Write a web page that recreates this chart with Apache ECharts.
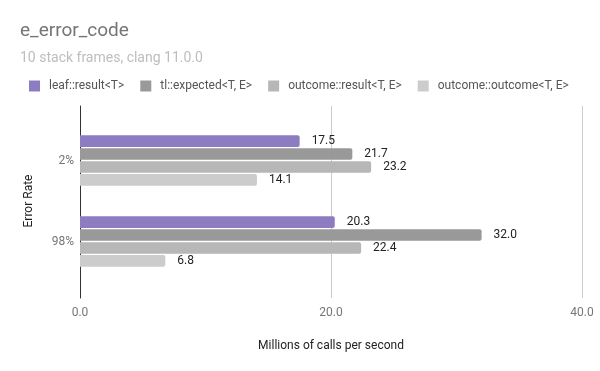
<!DOCTYPE html>
<html><head><meta charset="utf-8">
<script src="https://cdn.jsdelivr.net/npm/echarts@6/dist/echarts.min.js"></script>
<style>html,body{margin:0;padding:0;background:#fff}#c{width:600px;height:371px}</style>
</head><body><div id="c"></div>
<script>
const categories = ['2%', '98%'];
const seriesNames = ['leaf::result<T>', 'tl::expected<T, E>', 'outcome::result<T, E>', 'outcome::outcome<T, E>'];
const leafResult = [17.5, 20.3];
const tlExpected = [21.7, 32.0];
const outcomeResult = [23.2, 22.4];
const outcomeOutcome = [14.1, 6.8];
const xTicks = [0, 20, 40];
const colors = ['#8e7cc3', '#999999', '#b7b7b7', '#cccccc'];
const values = [leafResult, tlExpected, outcomeResult, outcomeOutcome];

const font = 'Roboto, "Noto Sans", sans-serif';
const chart = echarts.init(document.getElementById('c'));
chart.setOption({
  animation: false,
  title: [
    {text: 'e_error_code', left: 20, top: 22, padding: 0, textStyle: {fontFamily: font, fontSize: 19, fontWeight: 'normal', color: '#757575'}},
    {text: '10 stack frames, clang 11.0.0', left: 20, top: 51, padding: 0, textStyle: {fontFamily: font, fontSize: 14, fontWeight: 'normal', color: '#bdbdbd'}}
  ],
  legend: {
    left: 29, top: 80, padding: 0, icon: 'rect', itemWidth: 11, itemHeight: 11, itemGap: 16,
    textStyle: {fontFamily: font, fontSize: 12, color: '#555', padding: [0, 0, 0, 4]},
    data: seriesNames
  },
  grid: [
    {left: 80, right: 18, top: 120, height: 162, containLabel: false},
    {left: 80, right: 18, top: 106, height: 192, containLabel: false}
  ],
  xAxis: [
    {gridIndex: 0, type: 'value', min: 0, max: 40, interval: 20, show: false},
    {gridIndex: 1, type: 'value', min: 0, max: 40, interval: 20,
     name: 'Millions of calls per second', nameLocation: 'middle', nameGap: 42,
     nameTextStyle: {fontFamily: font, fontSize: 12, color: '#222'},
     axisLine: {show: false}, axisTick: {show: false},
     axisLabel: {fontFamily: font, fontSize: 12, color: '#757575', margin: 9, formatter: v => v.toFixed(1)},
     splitLine: {show: true, lineStyle: {color: '#cccccc', width: 1}}}
  ],
  yAxis: [
    {gridIndex: 0, type: 'category', data: categories, inverse: true,
     axisLine: {show: false}, axisTick: {show: false},
     axisLabel: {fontFamily: font, fontSize: 12, color: '#757575', margin: 6, padding: [4, 0, 0, 0]},
     name: 'Error Rate', nameLocation: 'middle', nameGap: 45, nameRotate: 90,
     nameTextStyle: {fontFamily: font, fontSize: 12, color: '#222'}},
    {gridIndex: 1, type: 'category', data: categories, inverse: true,
     axisLine: {show: true, lineStyle: {color: '#333', width: 1}}, axisTick: {show: false},
     axisLabel: {show: false}, splitLine: {show: false}}
  ],
  series: seriesNames.map((n, i) => ({
    name: n, type: 'bar', xAxisIndex: 0, yAxisIndex: 0,
    data: values[i],
    itemStyle: {color: colors[i], borderRadius: [0, 2, 2, 0]},
    barCategoryGap: '37.5%', barGap: '11%',
    label: {show: true, position: 'right', distance: 12, fontFamily: font, fontSize: 12, color: '#222', formatter: p => p.value.toFixed(1)}
  }))
});
</script></body></html>
